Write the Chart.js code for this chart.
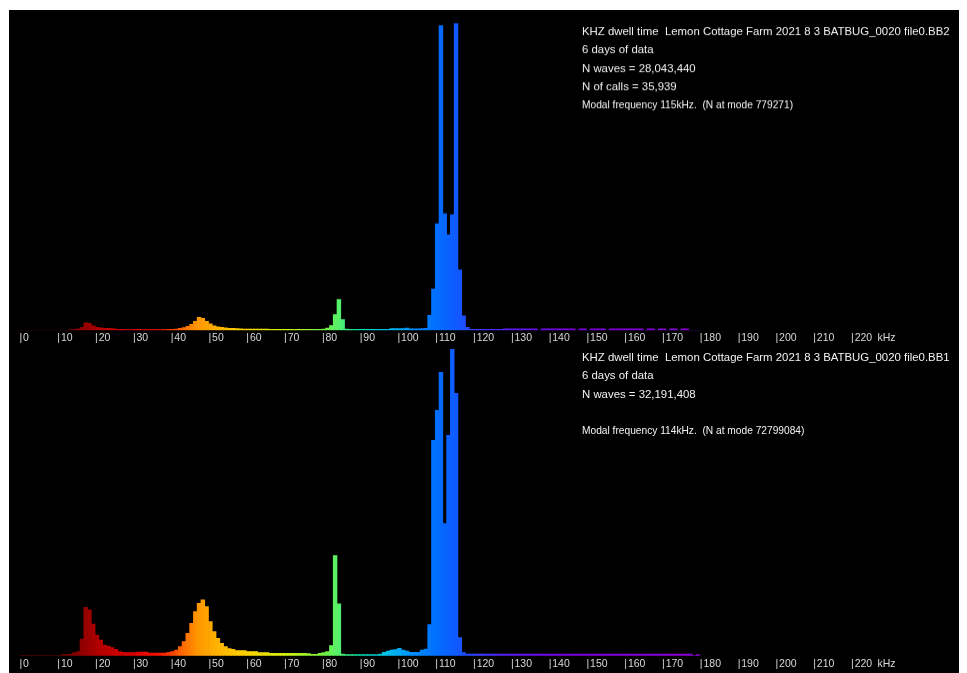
<!DOCTYPE html>
<html>
<head>
<meta charset="utf-8">
<title>KHZ dwell time</title>
<script src="https://cdn.jsdelivr.net/npm/chart.js@4.4.0/dist/chart.umd.min.js"></script>
<style>
  html, body { margin: 0; padding: 0; background: #fff; }
  body { width: 967px; height: 673px; position: relative; overflow: hidden; }
  #panel { position: absolute; left: 9px; top: 10px; width: 950px; height: 663px; background: #000; }
  .box { position: absolute; left: 9px; width: 950px; }
  #topBox { top: 10px; height: 335.9px; }
  #bottomBox { top: 345px; height: 327.3px; }
</style>
</head>
<body>
<div id="panel"></div>
<div class="box" id="topBox"><canvas id="topChart"></canvas></div>
<div class="box" id="bottomBox"><canvas id="bottomChart"></canvas></div>
<script>
// kHz axis ticks
const tickValues = [0, 10, 20, 30, 40, 50, 60, 70, 80, 90, 100, 110, 120, 130, 140, 150, 160, 170, 180, 190, 200, 210, 220, 227];
const tickLabels = ['|0', '|10', '|20', '|30', '|40', '|50', '|60', '|70', '|80', '|90', '|100', '|110', '|120', '|130', '|140', '|150', '|160', '|170', '|180', '|190', '|200', '|210', '|220', 'kHz'];

// BB2 : waves per 1 kHz bin (thousands), bins 0..179
const bb2Counts = [
  0, 0, 0, 0, 0, 0, 0, 0, 0, 0,
  0, 0, 0, 1.8, 2.6, 3.8, 7.7, 19.2, 17.9, 11.5,
  7.7, 6.4, 5.1, 5.1, 4.3, 3.3, 2.6, 2.3, 2.0, 2.0,
  2.3, 2.3, 2.0, 2.0, 1.8, 1.8, 1.8, 2.0, 2.0, 2.3,
  2.6, 3.3, 5.1, 6.9, 10.2, 15.3, 23.0, 33.2, 30.7, 23.0,
  16.6, 11.5, 8.9, 7.7, 6.4, 5.1, 5.1, 4.3, 3.6, 3.3,
  3.1, 3.1, 3.1, 2.8, 2.8, 2.8, 2.6, 2.6, 2.6, 2.6,
  2.6, 2.6, 2.3, 2.3, 2.3, 2.3, 2.3, 2.3, 2.6, 2.6,
  3.3, 5.9, 12.0, 40.1, 78.4, 27.3, 3.3, 2.3, 2.3, 2.3,
  2.3, 2.3, 2.3, 2.3, 2.3, 2.3, 2.3, 2.6, 4.3, 4.3,
  4.3, 4.3, 5.9, 3.8, 3.8, 3.8, 4.3, 5.1, 38.3, 104.8,
  270.8, 774.2, 296.4, 242.7, 293.8, 779.3, 153.3, 37.0, 7.7, 2.6,
  2.6, 2.6, 2.6, 2.6, 2.6, 2.6, 2.6, 2.6, 3.8, 3.8,
  3.8, 3.8, 3.8, 3.8, 3.8, 3.8, 3.8, 0, 3.8, 3.8,
  3.8, 3.8, 3.8, 3.8, 3.8, 3.8, 3.8, 0, 3.8, 3.8,
  0, 3.8, 3.8, 3.8, 3.8, 0, 3.8, 3.8, 3.8, 3.8,
  3.8, 3.8, 3.8, 3.8, 3.8, 0, 3.8, 3.8, 0, 3.8,
  3.8, 0, 3.8, 3.8, 0, 3.8, 3.8, 0, 0, 0
];

// BB1 : waves per 1 kHz bin (thousands), bins 0..179
const bb1Counts = [
  0, 0, 0, 0, 0, 0, 0, 0, 0, 0,
  0, 238, 238, 357, 714, 952, 3973, 11491, 10872, 7541,
  4925, 3735, 2546, 2308, 1903, 1499, 952, 785, 714, 714,
  714, 880, 880, 880, 642, 642, 642, 642, 642, 785,
  952, 1356, 2141, 3331, 5305, 7684, 10468, 12442, 13251, 11657,
  8089, 5710, 4116, 2926, 2141, 1665, 1499, 1190, 1190, 1190,
  952, 952, 952, 714, 714, 714, 547, 547, 547, 547,
  547, 547, 547, 547, 547, 547, 476, 309, 309, 547,
  714, 952, 2379, 23790, 12299, 404, 238, 238, 238, 238,
  238, 238, 238, 238, 238, 357, 785, 1071, 1356, 1427,
  1737, 1356, 1071, 785, 785, 785, 1356, 1594, 7375, 51149,
  58286, 67326, 31403, 52338, 72799, 62330, 4282, 714, 357, 357,
  357, 357, 357, 357, 357, 357, 357, 357, 357, 357,
  357, 357, 357, 357, 357, 357, 357, 357, 357, 357,
  357, 357, 357, 357, 357, 357, 357, 357, 357, 357,
  357, 357, 357, 357, 357, 357, 357, 357, 357, 357,
  357, 357, 357, 357, 357, 357, 357, 357, 357, 357,
  357, 357, 357, 357, 357, 357, 357, 357, 0, 238
];

const bb2Info = [
  'KHZ dwell time  Lemon Cottage Farm 2021 8 3 BATBUG_0020 file0.BB2',
  '6 days of data',
  'N waves = 28,043,440',
  'N of calls = 35,939'
];
const bb2Modal = 'Modal frequency 115kHz.  (N at mode 779271)';

const bb1Info = [
  'KHZ dwell time  Lemon Cottage Farm 2021 8 3 BATBUG_0020 file0.BB1',
  '6 days of data',
  'N waves = 32,191,408',
  ''
];
const bb1Modal = 'Modal frequency 114kHz.  (N at mode 72799084)';

// rainbow along the kHz axis
const gradStops = [10, 16, 22, 30, 37, 42, 47, 52, 60, 70, 80, 85, 90, 97, 104, 110, 116, 122, 130, 145, 175];
const gradColors = ['#6a0000', '#8c0000', '#b80000', '#dc0000', '#fa1400', '#ff5a00', '#ff9600', '#ffb000', '#ffd400', '#d4ee10', '#78f040', '#50f070', '#00dca8', '#00c0e8', '#0090ff', '#0070ff', '#1258ff', '#3a3cff', '#5a1aec', '#7a00dc', '#8800d0'];

function rainbow(context) {
  const chart = context.chart;
  const area = chart.chartArea;
  if (!area) return '#0070ff';
  const x = chart.scales.x;
  const g = chart.ctx.createLinearGradient(area.left, 0, area.right, 0);
  const w = area.right - area.left;
  gradStops.forEach(function(k, i) {
    let t = (x.getPixelForValue(k) - area.left) / w;
    t = Math.min(1, Math.max(0, t));
    g.addColorStop(t, gradColors[i]);
  });
  return g;
}

// info text in the top right corner of each panel
const infoPlugin = {
  id: 'info',
  afterDraw(chart, args, opts) {
    const ctx = chart.ctx;
    ctx.save();
    ctx.fillStyle = '#f2f2f2';
    ctx.textBaseline = 'middle';
    ctx.textAlign = 'left';
    ctx.font = '11.4px "Liberation Sans", Arial, sans-serif';
    opts.lines.forEach(function(line, i) {
      ctx.fillText(line, opts.x, opts.y + i * 18.6);
    });
    ctx.font = '10.2px "Liberation Sans", Arial, sans-serif';
    ctx.fillText(opts.modal, opts.x, opts.y + opts.lines.length * 18.6 - 1);
    ctx.restore();
  }
};

function makeChart(id, counts, yMax, lines, modal, infoY) {
  return new Chart(document.getElementById(id), {
    type: 'bar',
    data: {
      datasets: [{
        data: counts.map((v, i) => ({ x: i + 0.5, y: v })),
        backgroundColor: rainbow,
        borderWidth: 0,
        barPercentage: 1,
        categoryPercentage: 1
      }]
    },
    options: {
      responsive: true,
      maintainAspectRatio: false,
      animation: false,
      layout: { padding: { left: 10.5, right: 2.1, top: 0, bottom: 0 } },
      plugins: {
        legend: { display: false },
        tooltip: { enabled: false },
        info: { lines: lines, modal: modal, x: 573, y: infoY }
      },
      scales: {
        x: {
          type: 'linear',
          min: 0,
          max: 248,
          offset: false,
          grid: { display: false, drawTicks: false, offset: false },
          border: { display: false },
          afterBuildTicks: function(scale) {
            scale.ticks = tickValues.map(v => ({ value: v }));
          },
          ticks: {
            color: '#d8d8d8',
            font: { family: '"Liberation Sans", Arial, sans-serif', size: 10.5 },
            padding: 2,
            align: 'start',
            autoSkip: false,
            maxRotation: 0,
            callback: function(value, index) {
              const t = tickLabels[index];
              return t.charAt(0) === '|' ? '|\u200A' + t.slice(1) : t;
            }
          }
        },
        y: {
          display: false,
          min: 0,
          max: yMax
        }
      }
    },
    plugins: [infoPlugin]
  });
}

makeChart('topChart', bb2Counts, 814, bb2Info, bb2Modal, 21.5);
makeChart('bottomChart', bb1Counts, 73820, bb1Info, bb1Modal, 12.5);
</script>
</body>
</html>
